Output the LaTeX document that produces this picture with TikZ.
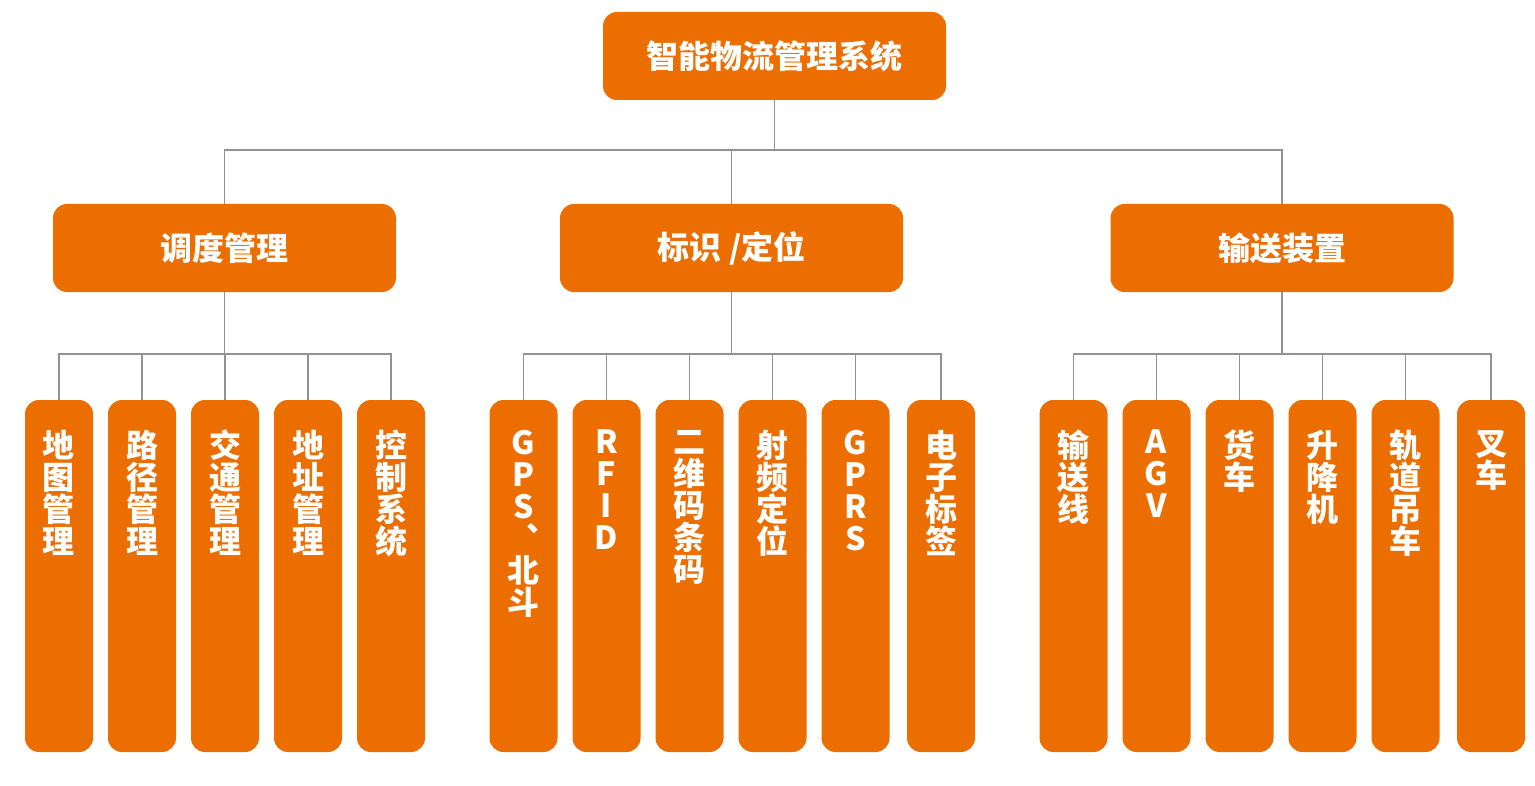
\documentclass[tikz,border=0pt]{standalone}
\usepackage{fontspec}
\newfontfamily\cjkfont{Noto Sans CJK SC}
\definecolor{Chengse}{RGB}{236,109,0}
\definecolor{Xianhui}{RGB}{150,145,145}
\usetikzlibrary{positioning}
\newcommand\leaftext[1]{\parbox[c][176pt][t]{34pt}{\vspace*{15pt}\centering #1}}

\begin{document}
\begin{tikzpicture}[
  x=0.5pt, y=-0.5pt,
  topbox/.style={
    rectangle, rounded corners=7pt, fill=Chengse, text=white,
    font=\cjkfont\bfseries\fontsize{16pt}{16pt}\selectfont,
    minimum width=171.5pt, minimum height=44pt, inner sep=0pt, outer sep=0pt
  },
  midbox/.style={topbox},
  leaf/.style={
    rectangle, rounded corners=7pt, fill=Chengse, text=white,
    font=\cjkfont\bfseries\fontsize{16pt}{16pt}\selectfont,
    minimum width=34pt, minimum height=176pt, inner sep=0pt, outer sep=0pt
  },
  conn/.style={draw=Xianhui, line width=0.7pt}
]
\useasboundingbox (0,0) rectangle (1535,786);

%% ── Nivel superior ─────────────────────────────────────────
\node[topbox] (xitong)  at (774.5,56) {智能物流管理系统};

%% ── Segundo nivel ──────────────────────────────────────────
\node[midbox] (diaodu)  at (224.5,248)  {调度管理};
\node[midbox] (biaoshi) at (731.5,248)  {标识 /定位};
\node[midbox] (shusong) at (1282,248)   {输送装置};

%% ── Hojas: 调度管理 ────────────────────────────────────────
\node[leaf, anchor=north]       (ditu)    at (59,400) {\leaftext{地\\图\\管\\理}};
\node[leaf, right=7.5pt of ditu]   (lujing)  {\leaftext{路\\径\\管\\理}};
\node[leaf, right=7.5pt of lujing] (jiaotong){\leaftext{交\\通\\管\\理}};
\node[leaf, right=7.5pt of jiaotong](dizhi)  {\leaftext{地\\址\\管\\理}};
\node[leaf, right=7.5pt of dizhi]  (kongzhi) {\leaftext{控\\制\\系\\统}};

%% ── Hojas: 标识 /定位 ──────────────────────────────────────
\node[leaf, anchor=north]       (gps)     at (523.5,400) {\leaftext{G\\P\\S\\︑\\北\\斗}};
\node[leaf, right=7.5pt of gps]    (rfid)    {\leaftext{R\\F\\I\\D}};
\node[leaf, right=7.5pt of rfid]   (erwei)   {\leaftext{二\\维\\码\\条\\码}};
\node[leaf, right=7.5pt of erwei]  (shepin)  {\leaftext{射\\频\\定\\位}};
\node[leaf, right=7.5pt of shepin] (gprs)    {\leaftext{G\\P\\R\\S}};
\node[leaf, right=8.75pt of gprs]  (dianzi)  {\leaftext{电\\子\\标\\签}};

%% ── Hojas: 输送装置 ────────────────────────────────────────
\node[leaf, anchor=north]       (xian)    at (1073.5,400) {\leaftext{输\\送\\线}};
\node[leaf, right=7.5pt of xian]   (agv)     {\leaftext{A\\G\\V}};
\node[leaf, right=7.5pt of agv]    (huoche)  {\leaftext{货\\车}};
\node[leaf, right=7.5pt of huoche] (shengji) {\leaftext{升\\降\\机}};
\node[leaf, right=7.5pt of shengji](guidao)  {\leaftext{轨\\道\\吊\\车}};
\node[leaf, right=8.75pt of guidao](chache)  {\leaftext{叉\\车}};

%% ── Conectores nivel 1 → 2 ────────────────────────────────
\draw[conn] (xitong.south) -- ++(0,50) coordinate (bus0);
\draw[conn] (diaodu.north) |- (bus0) -| (shusong.north);
\draw[conn] (biaoshi.north) -- (biaoshi.north |- bus0);

%% ── Conectores 调度管理 ────────────────────────────────────
\draw[conn] (diaodu.south) -- ++(0,62) coordinate (bus1);
\draw[conn] (ditu.north) |- (bus1) -| (kongzhi.north);
\draw[conn] (lujing.north)   -- (lujing.north |- bus1);
\draw[conn] (jiaotong.north) -- (jiaotong.north |- bus1);
\draw[conn] (dizhi.north)    -- (dizhi.north |- bus1);

%% ── Conectores 标识 /定位 ──────────────────────────────────
\draw[conn] (biaoshi.south) -- ++(0,62) coordinate (bus2);
\draw[conn] (gps.north) |- (bus2) -| (dianzi.north);
\draw[conn] (rfid.north)   -- (rfid.north |- bus2);
\draw[conn] (erwei.north)  -- (erwei.north |- bus2);
\draw[conn] (shepin.north) -- (shepin.north |- bus2);
\draw[conn] (gprs.north)   -- (gprs.north |- bus2);

%% ── Conectores 输送装置 ────────────────────────────────────
\draw[conn] (shusong.south) -- ++(0,62) coordinate (bus3);
\draw[conn] (xian.north) |- (bus3) -| (chache.north);
\draw[conn] (agv.north)     -- (agv.north |- bus3);
\draw[conn] (huoche.north)  -- (huoche.north |- bus3);
\draw[conn] (shengji.north) -- (shengji.north |- bus3);
\draw[conn] (guidao.north)  -- (guidao.north |- bus3);

\end{tikzpicture}
\end{document}
